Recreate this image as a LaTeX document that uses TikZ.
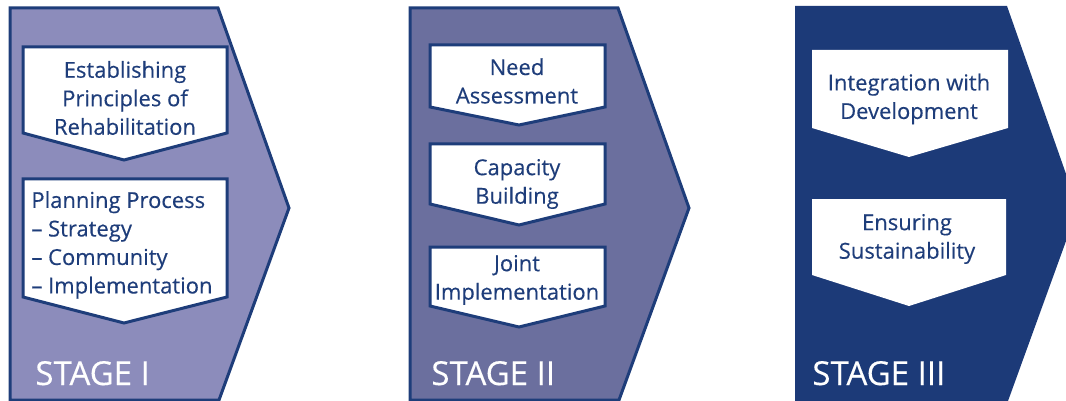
\documentclass[tikz,border=0pt]{standalone}
\usepackage{fontspec}
\setmainfont{Open Sans}[FakeBold=0.3]
\definecolor{navy}{RGB}{30,61,122}
\definecolor{stageone}{RGB}{140,140,187}
\definecolor{stagetwo}{RGB}{107,111,158}
\definecolor{stagethree}{RGB}{28,58,120}

\begin{document}
\begin{tikzpicture}[x=0.5pt, y=-0.5pt,
    stageline/.style={line width=1.5pt, draw=navy, line join=miter},
    boxline/.style={line width=1.5pt, draw=navy, fill=white, line join=miter},
    boxtext/.style={text=navy, align=center, inner sep=0pt,
        font=\fontsize{11}{14.25}\selectfont},
    stagetext/.style={text=white, anchor=base west, inner sep=0pt,
        font=\fontsize{16.5}{18}\selectfont}]

            % Fix the size of the picture
            \useasboundingbox (0,0) rectangle (1066,401);
            \clip (0,0) rectangle (1066,401);

            % Draw the first stage arrow
            \draw[stageline, fill=stageone] (10,8) -- (218,8) -- (289,208) -- (219,400) -- (10,400) -- cycle;

            % Draw the boxes of stage one
            \draw[boxline] (23,47) -- (227,47) -- (227,133) -- (124,160) -- (23,133) -- cycle;
            \draw[boxline] (23,179) -- (227,179) -- (227,297) -- (124,323) -- (23,297) -- cycle;

            % Texts of stage one
            \node[boxtext] (principles) at (125,98) {Establishing\\Principles of\\Rehabilitation};
            \node[boxtext, align=left, anchor=west] (planning) at (31,245) {Planning Process\\– Strategy\\– Community\\– Implementation};
            \node[stagetext] (stageI) at (35,385) {STAGE I};

            % Draw the second stage arrow
            \draw[stageline, fill=stagetwo] (410,8) -- (618,8) -- (689,208) -- (619,400) -- (410,400) -- cycle;

            % Draw the boxes of stage two
            \draw[boxline] (430,45) -- (605,45) -- (605,107) -- (519,125) -- (430,107) -- cycle;
            \draw[boxline] (430,144) -- (605,144) -- (605,204) -- (519,225) -- (430,204) -- cycle;
            \draw[boxline] (430,247) -- (605,247) -- (605,306) -- (519,327) -- (430,306) -- cycle;

            % Texts of stage two
            \node[boxtext] (need) at (517,81) {Need\\Assessment};
            \node[boxtext] (capacity) at (517,184) {Capacity\\Building};
            \node[boxtext] (joint) at (517,280) {Joint\\Implementation};
            \node[stagetext] (stageII) at (431,385) {STAGE II};

            % Draw the third stage arrow, no border here
            \fill[stagethree] (795,6) -- (1007,6) -- (1078,208) -- (1008,401) -- (795,401) -- cycle;

            % Draw the boxes of stage three
            \fill[white] (812,50) -- (1008,50) -- (1008,128) -- (909,157) -- (812,128) -- cycle;
            \fill[white] (812,199) -- (1006,199) -- (1006,275) -- (909,306) -- (812,275) -- cycle;

            % Texts of stage three
            \node[boxtext] (integration) at (909,99) {Integration with\\Development};
            \node[boxtext] (sustain) at (907,239) {Ensuring\\Sustainability};
            \node[stagetext] (stageIII) at (812,385) {STAGE III};
        \end{tikzpicture}
\end{document}
